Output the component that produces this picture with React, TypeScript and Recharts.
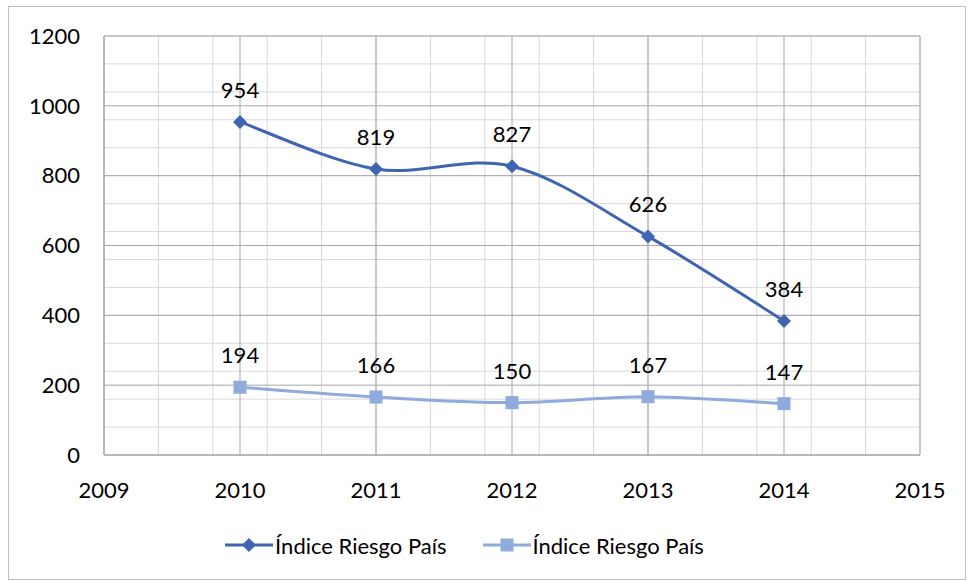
import React from 'react';
import { LineChart, Line, XAxis, YAxis, CartesianGrid, Legend, LabelList } from 'recharts';

const years = [2010, 2011, 2012, 2013, 2014];
const riesgoAlto = [954, 819, 827, 626, 384];
const riesgoBajo = [194, 166, 150, 167, 147];
const xTicks = [2009, 2010, 2011, 2012, 2013, 2014, 2015];
const yTicks = [0, 200, 400, 600, 800, 1000, 1200];
const seriesName = 'Índice Riesgo País';

const data = years.map((year, i) => ({ year, alto: riesgoAlto[i], bajo: riesgoBajo[i] }));

// minor gridlines (5 per major step, like the excel sheet)
const minorY = Array.from({ length: 31 }, (_, i) => i * 40);
const minorX = Array.from({ length: 31 }, (_, i) => 2009 + i * 0.2);

const DARK = '#3f65b1';
const LIGHT = '#8faadc';
const FONT = 'Lato, "Open Sans", sans-serif';
const FS = 22;

// excel-ish smoothed line (catmull-rom style bezier)
const excelCurve = (context: any) => {
  let pts: number[][] = [];
  return {
    areaStart() {},
    areaEnd() {},
    lineStart() { pts = []; },
    point(x: number, y: number) { pts.push([+x, +y]); },
    lineEnd() {
      if (!pts.length) return;
      context.moveTo(pts[0][0], pts[0][1]);
      for (let i = 0; i < pts.length - 1; i++) {
        const p0 = pts[i - 1] || pts[i];
        const p1 = pts[i];
        const p2 = pts[i + 1];
        const p3 = pts[i + 2] || p2;
        context.bezierCurveTo(
          p1[0] + (p2[0] - p0[0]) / 6, p1[1] + (p2[1] - p0[1]) / 6,
          p2[0] - (p3[0] - p1[0]) / 6, p2[1] - (p3[1] - p1[1]) / 6,
          p2[0], p2[1]
        );
      }
    },
  };
};

const Diamond = (props: any) => {
  const { cx, cy } = props;
  if (cx == null || cy == null) return null;
  const r = 7;
  return <path key={`d-${cx}`} d={`M${cx},${cy - r}L${cx + r},${cy}L${cx},${cy + r}L${cx - r},${cy}Z`} fill={DARK} />;
};

const Square = (props: any) => {
  const { cx, cy } = props;
  if (cx == null || cy == null) return null;
  return <rect key={`s-${cx}`} x={cx - 6.5} y={cy - 6.5} width={13} height={13} fill={LIGHT} />;
};

const renderLegend = () => (
  <div style={{ display: 'flex', justifyContent: 'center', alignItems: 'center', height: 40, fontFamily: FONT, fontSize: FS, color: '#000' }}>
    {[{ c: DARK, m: 'd' }, { c: LIGHT, m: 's' }].map((it, i) => (
      <div key={i} style={{ display: 'flex', alignItems: 'center', marginRight: i === 0 ? 36 : 0 }}>
        <svg width={48} height={20}>
          <line x1={0} y1={10} x2={48} y2={10} stroke={it.c} strokeWidth={3} />
          {it.m === 'd'
            ? <path d="M24,3L31,10L24,17L17,10Z" fill={it.c} />
            : <rect x={17.5} y={3.5} width={13} height={13} fill={it.c} />}
        </svg>
        <span style={{ marginLeft: 2 }}>{seriesName}</span>
      </div>
    ))}
  </div>
);

export default function App() {
  return (
    <div style={{ position: 'absolute', left: 8, top: 6, width: 956, height: 572, border: '1px solid #bfbfbf', background: '#fff' }}>
      <LineChart width={956} height={572} data={data} margin={{ top: 29, right: 45, left: 0, bottom: 14 }}>
        <CartesianGrid stroke="#d9d9d9" horizontalValues={minorY} verticalValues={minorX} />
        <CartesianGrid stroke="#a6a6a6" horizontalValues={yTicks} verticalValues={xTicks} fill="none" />
        <XAxis
          dataKey="year"
          type="number"
          domain={[2009, 2015]}
          ticks={xTicks}
          axisLine={{ stroke: '#a6a6a6' }}
          tickLine={false}
          tickSize={0}
          tickMargin={27}
          height={70}
          tick={{ fill: '#000', fontSize: FS, fontFamily: FONT }}
        />
        <YAxis
          type="number"
          domain={[0, 1200]}
          ticks={yTicks}
          width={95}
          axisLine={{ stroke: '#a6a6a6' }}
          tickLine={false}
          tickSize={0}
          tickMargin={24}
          tick={{ fill: '#000', fontSize: FS, fontFamily: FONT }}
        />
        <Legend verticalAlign="bottom" height={40} content={renderLegend} />
        <Line dataKey="alto" name={seriesName} type={excelCurve as any} stroke={DARK} strokeWidth={3} dot={<Diamond />} activeDot={false} isAnimationActive={false}>
          <LabelList dataKey="alto" position="top" offset={24} fill="#000" fontSize={FS} fontFamily={FONT} />
        </Line>
        <Line dataKey="bajo" name={seriesName} type={excelCurve as any} stroke={LIGHT} strokeWidth={3} dot={<Square />} activeDot={false} isAnimationActive={false}>
          <LabelList dataKey="bajo" position="top" offset={24} fill="#000" fontSize={FS} fontFamily={FONT} />
        </Line>
      </LineChart>
    </div>
  );
}
